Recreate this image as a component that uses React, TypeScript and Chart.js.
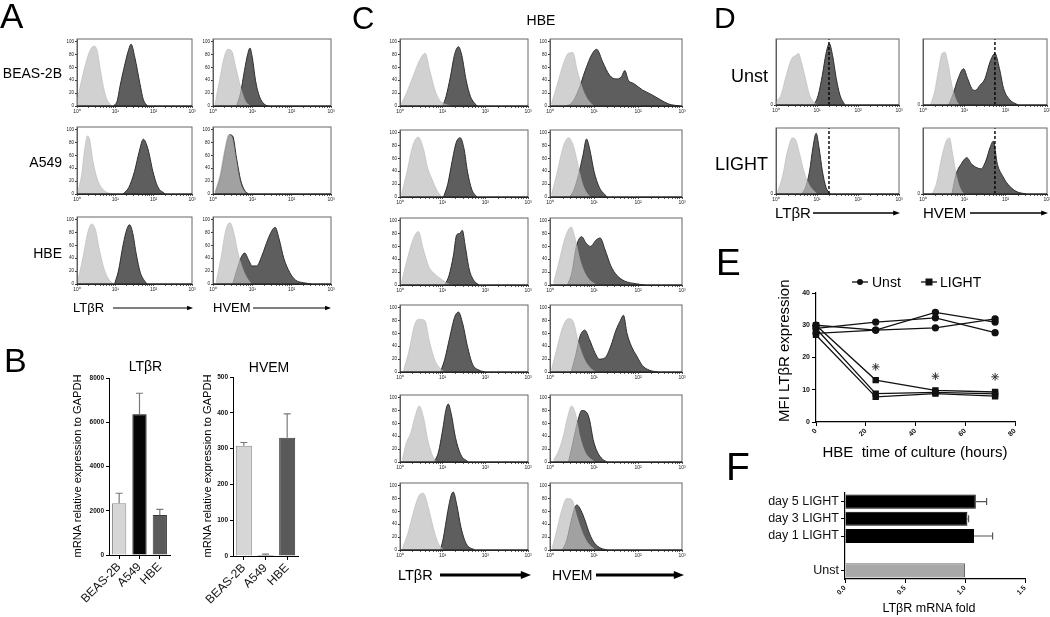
import React, { useEffect, useRef } from 'react';
import { Chart, registerables } from 'chart.js';
Chart.register(...registerables);

const FONT = "Arial, 'Liberation Sans', Helvetica, sans-serif";
Chart.defaults.font.family = FONT;
Chart.defaults.color = '#000';

type P = [number, number]; // [log10 fluorescence, % of max events]

// ---------- shared histogram axis ----------
const LOG_TICKS = [1, 2, 3, 4, 5, 6, 7, 8, 9, 10, 20, 30, 40, 50, 60, 70, 80, 90, 100, 200, 300, 400, 500, 600, 700, 800, 900, 1000];
const DECADE_LABELS: Record<number, string> = { 1: '10⁰', 10: '10¹', 100: '10²', 1000: '10³' };
const PCT_TICKS = [0, 20, 40, 60, 80, 100];
const ZERO_TICK = [0];

// ---------- Panel A (rows: BEAS-2B, A549, HBE) ----------
const A_ROW_LABELS = ['BEAS-2B', 'A549', 'HBE'];
const A_LTBR_CTRL: P[][] = [
  [[0, 8], [0.2, 60], [0.33, 85], [0.45, 93], [0.53, 85], [0.6, 60], [0.69, 30], [0.77, 12], [0.9, 0]],
  [[0.02, 3], [0.12, 30], [0.2, 70], [0.27, 90], [0.33, 85], [0.42, 50], [0.55, 20], [0.7, 6], [0.9, 0]],
  [[0.02, 5], [0.15, 40], [0.28, 80], [0.38, 93], [0.48, 85], [0.58, 55], [0.7, 25], [0.82, 8], [0.95, 0]],
];
const A_LTBR_STAIN: P[][] = [
  [[0.95, 0], [1.05, 8], [1.12, 30], [1.25, 65], [1.35, 88], [1.41, 96], [1.51, 75], [1.64, 35], [1.73, 10], [1.84, 0]],
  [[1.2, 0], [1.35, 10], [1.5, 35], [1.62, 65], [1.73, 85], [1.85, 70], [1.98, 35], [2.1, 12], [2.3, 0]],
  [[0.98, 0], [1.08, 20], [1.2, 60], [1.3, 85], [1.37, 92], [1.45, 80], [1.55, 45], [1.65, 18], [1.82, 0]],
];
const A_HVEM_CTRL: P[][] = [
  [[0.05, 3], [0.15, 35], [0.28, 75], [0.38, 88], [0.48, 85], [0.58, 60], [0.7, 30], [0.82, 8], [0.95, 0]],
  [[0.05, 3], [0.18, 30], [0.3, 70], [0.4, 92], [0.48, 88], [0.58, 55], [0.68, 20], [0.78, 5], [0.86, 0]],
  [[0.08, 3], [0.2, 40], [0.33, 85], [0.43, 95], [0.53, 80], [0.63, 50], [0.75, 25], [0.88, 8], [0.98, 0]],
];
const A_HVEM_STAIN: P[][] = [
  [[0.6, 0], [0.7, 20], [0.8, 55], [0.88, 80], [0.94, 90], [1.0, 75], [1.08, 40], [1.18, 15], [1.3, 3], [1.4, 0]],
  [[0.06, 2], [0.2, 30], [0.32, 70], [0.42, 92], [0.5, 90], [0.6, 55], [0.7, 22], [0.8, 6], [0.9, 0]],
  [[0.5, 0], [0.6, 20], [0.72, 42], [0.81, 48], [0.9, 38], [1.0, 28], [1.11, 28], [1.25, 45], [1.4, 70], [1.52, 85], [1.58, 88], [1.68, 70], [1.8, 40], [1.95, 18], [2.1, 6], [2.3, 2], [2.5, 0]],
];

// ---------- Panel B ----------
const B_CELLS = ['BEAS-2B', 'A549', 'HBE'];
const B_LTBR_MEAN = [2340, 6360, 1810];
const B_LTBR_ERR = [2790, 7310, 2065];
const B_HVEM_MEAN = [308, 3, 330];
const B_HVEM_ERR = [317, 5, 397];
const B_FILLS = ['#d6d6d6', '#050505', '#5a5a5a'];
const B_LINES = ['#8a8a8a', '#000000', '#3a3a3a'];

// ---------- Panel C (HBE, 6 donors) ----------
const C_LTBR_CTRL: P[][] = [
  [[0.02, 2], [0.15, 20], [0.3, 45], [0.45, 70], [0.59, 82], [0.7, 55], [0.82, 25], [0.94, 8], [1.1, 2], [1.2, 0]],
  [[0.03, 3], [0.15, 35], [0.3, 80], [0.43, 93], [0.55, 75], [0.65, 45], [0.75, 28], [0.87, 10], [0.98, 0]],
  [[0.03, 3], [0.15, 35], [0.3, 70], [0.43, 83], [0.55, 55], [0.68, 28], [0.8, 18], [0.95, 10], [1.1, 3], [1.2, 0]],
  [[0.08, 2], [0.2, 30], [0.35, 75], [0.45, 82], [0.58, 80], [0.7, 45], [0.82, 18], [0.95, 5], [1.05, 0]],
  [[0.05, 3], [0.15, 30], [0.25, 45], [0.35, 70], [0.45, 87], [0.55, 70], [0.65, 35], [0.75, 12], [0.85, 0]],
  [[0.05, 2], [0.18, 25], [0.32, 60], [0.45, 85], [0.55, 88], [0.65, 70], [0.78, 35], [0.9, 10], [1.03, 0]],
];
const C_LTBR_STAIN: P[][] = [
  [[1.0, 0], [1.08, 15], [1.18, 45], [1.28, 80], [1.37, 92], [1.45, 78], [1.55, 40], [1.65, 15], [1.8, 0]],
  [[1.02, 0], [1.12, 20], [1.22, 55], [1.32, 85], [1.41, 92], [1.5, 75], [1.58, 40], [1.68, 12], [1.8, 0]],
  [[1.05, 0], [1.15, 15], [1.25, 45], [1.33, 78], [1.4, 80], [1.46, 85], [1.53, 60], [1.62, 25], [1.72, 8], [1.85, 0]],
  [[0.95, 0], [1.05, 20], [1.17, 55], [1.28, 85], [1.37, 93], [1.47, 75], [1.58, 40], [1.7, 12], [1.85, 3], [2.0, 0]],
  [[0.8, 0], [0.9, 15], [1.0, 50], [1.08, 82], [1.13, 90], [1.2, 75], [1.3, 38], [1.42, 12], [1.6, 0]],
  [[0.95, 0], [1.02, 20], [1.12, 60], [1.2, 85], [1.25, 90], [1.33, 70], [1.43, 35], [1.55, 10], [1.75, 0]],
];
const C_HVEM_CTRL: P[][] = [
  [[0.03, 3], [0.15, 30], [0.3, 65], [0.42, 82], [0.52, 83], [0.62, 55], [0.75, 25], [0.88, 8], [1.0, 0]],
  [[0.03, 3], [0.15, 35], [0.3, 78], [0.42, 92], [0.52, 82], [0.62, 55], [0.72, 25], [0.82, 8], [0.92, 0]],
  [[0.08, 3], [0.2, 35], [0.35, 75], [0.48, 90], [0.58, 70], [0.7, 35], [0.85, 12], [1.05, 0]],
  [[0.03, 3], [0.15, 35], [0.3, 72], [0.43, 83], [0.53, 78], [0.65, 45], [0.78, 20], [0.92, 6], [1.05, 0]],
  [[0.08, 3], [0.2, 18], [0.3, 40], [0.4, 70], [0.49, 87], [0.58, 75], [0.68, 40], [0.8, 15], [0.92, 5], [1.03, 0]],
  [[0.05, 3], [0.15, 30], [0.28, 65], [0.38, 80], [0.5, 78], [0.6, 55], [0.72, 30], [0.85, 12], [1.03, 0]],
];
const C_HVEM_STAIN: P[][] = [
  [[0.35, 0], [0.5, 5], [0.65, 25], [0.8, 55], [0.95, 80], [1.06, 88], [1.2, 68], [1.35, 48], [1.5, 42], [1.62, 45], [1.7, 55], [1.78, 40], [1.9, 35], [2.1, 25], [2.3, 18], [2.5, 10], [2.7, 3], [2.95, 0]],
  [[0.45, 0], [0.55, 12], [0.65, 35], [0.75, 65], [0.83, 90], [0.9, 75], [1.0, 40], [1.12, 15], [1.3, 0]],
  [[0.4, 0], [0.5, 20], [0.6, 60], [0.72, 75], [0.82, 65], [0.92, 60], [1.05, 70], [1.14, 73], [1.25, 55], [1.38, 30], [1.52, 15], [1.7, 6], [1.95, 2], [2.15, 0]],
  [[0.48, 0], [0.58, 25], [0.68, 55], [0.79, 65], [0.9, 50], [1.02, 30], [1.12, 20], [1.25, 22], [1.38, 40], [1.5, 65], [1.6, 80], [1.67, 88], [1.75, 60], [1.85, 40], [1.97, 25], [2.1, 10], [2.25, 3], [2.45, 0]],
  [[0.42, 0], [0.52, 30], [0.6, 55], [0.68, 75], [0.72, 80], [0.82, 78], [0.9, 65], [0.98, 35], [1.08, 15], [1.2, 4], [1.3, 0]],
  [[0.28, 0], [0.38, 15], [0.48, 45], [0.56, 65], [0.61, 70], [0.7, 62], [0.8, 45], [0.9, 25], [1.02, 10], [1.15, 3], [1.3, 0]],
];

// ---------- Panel D (Unst, LIGHT) ----------
const D_ROW_LABELS = ['Unst', 'LIGHT'];
const D_LTBR_CTRL: P[][] = [
  [[0, 5], [0.12, 15], [0.25, 45], [0.38, 70], [0.48, 75], [0.55, 78], [0.62, 65], [0.72, 40], [0.82, 15], [0.95, 3], [1.05, 0]],
  [[0.03, 2], [0.15, 25], [0.28, 65], [0.4, 85], [0.48, 82], [0.58, 60], [0.68, 35], [0.8, 15], [1.0, 0]],
];
const D_LTBR_STAIN: P[][] = [
  [[0.93, 0], [1.03, 15], [1.13, 45], [1.22, 78], [1.3, 93], [1.38, 75], [1.47, 40], [1.56, 15], [1.68, 0]],
  [[0.62, 0], [0.72, 10], [0.82, 35], [0.9, 70], [0.98, 92], [1.05, 70], [1.13, 35], [1.22, 10], [1.32, 0]],
];
const D_HVEM_CTRL: P[][] = [
  [[0.18, 0], [0.28, 20], [0.38, 55], [0.46, 78], [0.53, 80], [0.6, 65], [0.7, 30], [0.8, 8], [0.88, 0]],
  [[0.22, 0], [0.32, 15], [0.45, 55], [0.56, 80], [0.64, 85], [0.72, 60], [0.82, 25], [0.92, 6], [1.0, 0]],
];
const D_HVEM_STAIN: P[][] = [
  [[0.62, 0], [0.72, 15], [0.85, 40], [0.98, 55], [1.08, 40], [1.18, 25], [1.26, 22], [1.38, 30], [1.5, 40], [1.62, 65], [1.74, 78], [1.85, 55], [1.95, 25], [2.1, 8], [2.3, 0]],
  [[0.7, 0], [0.8, 30], [0.92, 45], [1.06, 55], [1.18, 45], [1.3, 40], [1.4, 38], [1.52, 50], [1.62, 70], [1.7, 80], [1.8, 45], [1.92, 28], [2.05, 15], [2.25, 4], [2.5, 0]],
];
const D_LTBR_MEDIAN = 19.6; // Unst reference MFI
const D_HVEM_MEDIAN = 55;

// ---------- Panel E ----------
const E_HOURS = [0, 24, 48, 72];
const E_UNST: number[][] = [
  [29, 31, 32.3, 27.7],
  [30, 28.5, 34, 31],
  [27.5, 28.5, 29.2, 32],
];
const E_LIGHT: number[][] = [
  [30, 13, 9.8, 9.3],
  [29, 8.8, 9.2, 8.7],
  [27, 7.8, 8.8, 8.0],
];
const E_STAR_HOURS = [24, 48, 72];
const E_STAR_Y = [17.1, 14.2, 14.0];

// ---------- Panel F ----------
const F_LABELS = ['day 5 LIGHT', 'day 3 LIGHT', 'day 1 LIGHT', '', 'Unst'];
const F_FOLD = [1.09, 1.02, 1.075, null, 1.0];
const F_ERR = [1.18, 1.03, 1.23, null, null];
const F_FILLS = ['#000', '#000', '#000', '#000', '#a8a8a8'];
const F_LINES = ['#000', '#000', '#000', '#000', '#6a6a6a'];

// ---------- styles ----------
const CTRL_FILL = 'rgba(190,190,190,0.7)';
const CTRL_LINE = 'rgba(175,175,175,0.8)';
const STAIN_FILL = '#5e5e5e';
const STAIN_LINE = '#2e2e2e';

const boxPlugin = {
  id: 'box',
  afterDraw(chart: any) {
    const { ctx, chartArea: a } = chart;
    ctx.save();
    ctx.strokeStyle = '#666';
    ctx.lineWidth = 1;
    ctx.strokeRect(a.left, a.top, a.right - a.left, a.bottom - a.top);
    ctx.beginPath();
    ctx.strokeStyle = '#111';
    ctx.moveTo(a.left, a.bottom);
    ctx.lineTo(a.right, a.bottom);
    ctx.stroke();
    ctx.restore();
  },
};

function errPlugin(errs: (number | null)[], horizontal: boolean, color: string, cap: number) {
  return {
    id: 'errbars',
    afterDatasetsDraw(chart: any) {
      const { ctx } = chart;
      const meta = chart.getDatasetMeta(0);
      const sc = horizontal ? chart.scales.x : chart.scales.y;
      ctx.save();
      ctx.strokeStyle = color;
      ctx.lineWidth = 1.2;
      meta.data.forEach((bar: any, i: number) => {
        const e = errs[i];
        if (e == null) return;
        const p = sc.getPixelForValue(e);
        ctx.beginPath();
        if (horizontal) {
          ctx.moveTo(bar.x, bar.y);
          ctx.lineTo(p, bar.y);
          ctx.moveTo(p, bar.y - cap);
          ctx.lineTo(p, bar.y + cap);
        } else {
          ctx.moveTo(bar.x, bar.y);
          ctx.lineTo(bar.x, p);
          ctx.moveTo(bar.x - cap, p);
          ctx.lineTo(bar.x + cap, p);
        }
        ctx.stroke();
      });
      ctx.restore();
    },
  };
}

function ChartCanvas({ x, y, w, h, config }: { x: number; y: number; w: number; h: number; config: () => any }) {
  const ref = useRef<HTMLCanvasElement | null>(null);
  useEffect(() => {
    if (!ref.current) return;
    const chart = new Chart(ref.current, config());
    return () => chart.destroy();
  }, []);
  return <canvas ref={ref} width={w} height={h} style={{ position: 'absolute', left: x, top: y, width: w, height: h }} />;
}

const HYW = 22, HPT = 4, HPR = 8, HXH = 13;

function histConfig(ctrl: P[], stain: P[], yMax: number, yTicks: number[], median: number | null) {
  const toXY = (pts: P[]) => pts.map(([lx, y]) => ({ x: Math.pow(10, lx), y }));
  const datasets: any[] = [
    { data: toXY(ctrl), fill: 'origin', backgroundColor: CTRL_FILL, borderColor: CTRL_LINE, borderWidth: 0.6, pointRadius: 0, cubicInterpolationMode: 'monotone', order: 1 },
    { data: toXY(stain), fill: 'origin', backgroundColor: STAIN_FILL, borderColor: STAIN_LINE, borderWidth: 1, pointRadius: 0, cubicInterpolationMode: 'monotone', order: 2 },
  ];
  if (median != null) {
    datasets.push({ data: [{ x: median, y: 0 }, { x: median, y: yMax }], borderColor: '#000', borderWidth: 1.4, borderDash: [3, 2], pointRadius: 0, fill: false, order: 0 });
  }
  return {
    type: 'line',
    data: { datasets },
    options: {
      responsive: false,
      animation: false,
      events: [],
      layout: { padding: { left: 0, top: HPT, right: HPR, bottom: 0 } },
      plugins: { legend: { display: false }, tooltip: { enabled: false } },
      scales: {
        x: {
          type: 'logarithmic', min: 1, max: 1000,
          afterBuildTicks: (s: any) => { s.ticks = LOG_TICKS.map((v) => ({ value: v })); },
          afterFit: (s: any) => { s.height = HXH; s.paddingLeft = 0; s.paddingRight = 0; },
          ticks: { autoSkip: false, maxRotation: 0, minRotation: 0, padding: 1, font: { size: 5 }, color: '#222', callback: (v: any) => DECADE_LABELS[v] || '' },
          grid: { drawOnChartArea: false, tickLength: 2, tickColor: '#333', lineWidth: 0.8 },
          border: { color: '#111', width: 1 },
        },
        y: {
          type: 'linear', min: 0, max: yMax,
          afterBuildTicks: (s: any) => { s.ticks = yTicks.map((v) => ({ value: v })); },
          afterFit: (s: any) => { s.width = HYW; s.paddingTop = 0; s.paddingBottom = 0; },
          ticks: { padding: 1, font: { size: 4.5 }, color: '#222' },
          grid: { drawOnChartArea: false, tickLength: 2, tickColor: '#333' },
          border: { color: '#555' },
        },
      },
    },
    plugins: [boxPlugin],
  };
}

function Hist({ L, T, W, H, ctrl, stain, zeroOnly, median }: { L: number; T: number; W: number; H: number; ctrl: P[]; stain: P[]; zeroOnly?: boolean; median?: number }) {
  return (
    <ChartCanvas
      x={L - HYW} y={T - HPT} w={W + HYW + HPR} h={H + HPT + HXH}
      config={() => histConfig(ctrl, stain, zeroOnly ? 100 : 104, zeroOnly ? ZERO_TICK : PCT_TICKS, median ?? null)}
    />
  );
}

function barConfig(values: number[], errs: number[], yMax: number, step: number, yw: number, xh: number, barPct: number) {
  return {
    type: 'bar',
    data: { labels: B_CELLS, datasets: [{ data: values, backgroundColor: B_FILLS, borderColor: B_LINES, borderWidth: 1, barPercentage: barPct, categoryPercentage: 1 }] },
    options: {
      responsive: false, animation: false, events: [],
      layout: { padding: { left: 0, top: 8, right: 6, bottom: 0 } },
      plugins: { legend: { display: false }, tooltip: { enabled: false } },
      scales: {
        x: {
          afterFit: (s: any) => { s.height = xh; s.paddingLeft = 0; s.paddingRight = 0; },
          ticks: { minRotation: 45, maxRotation: 45, autoSkip: false, padding: 1, font: { size: 12 }, color: '#111' },
          grid: { drawOnChartArea: false, offset: false, tickLength: 4, tickColor: '#000' },
          border: { color: '#000', width: 1 },
        },
        y: {
          min: 0, max: yMax,
          afterFit: (s: any) => { s.width = yw; s.paddingTop = 0; s.paddingBottom = 0; },
          ticks: { stepSize: step, padding: 2, font: { size: 6.5, weight: 'bold' }, color: '#111', callback: (v: any) => String(v) },
          grid: { drawOnChartArea: false, tickLength: 3, tickColor: '#000' },
          border: { color: '#000', width: 1 },
        },
      },
    },
    plugins: [errPlugin(errs, false, '#7a7a7a', 3.5)],
  };
}

function lineConfig() {
  const datasets: any[] = [];
  E_UNST.forEach((s, k) => datasets.push({
    label: k === 0 ? 'Unst' : '', data: E_HOURS.map((h, i) => ({ x: h, y: s[i] })),
    borderColor: '#111', borderWidth: 1.3, pointStyle: 'circle', pointRadius: 3, pointBackgroundColor: '#111', pointBorderColor: '#111', fill: false, tension: 0, clip: false,
  }));
  E_LIGHT.forEach((s, k) => datasets.push({
    label: k === 0 ? 'LIGHT' : '', data: E_HOURS.map((h, i) => ({ x: h, y: s[i] })),
    borderColor: '#111', borderWidth: 1.3, pointStyle: 'rect', pointRadius: 3.6, pointBackgroundColor: '#111', pointBorderColor: '#111', fill: false, tension: 0, clip: false,
  }));
  datasets.push({
    type: 'scatter', label: '', data: E_STAR_HOURS.map((h, i) => ({ x: h, y: E_STAR_Y[i] })),
    pointStyle: 'star', pointRadius: 3.8, borderColor: '#333', borderWidth: 1, showLine: false, clip: false,
  });
  return {
    type: 'line',
    data: { datasets },
    options: {
      responsive: false, animation: false, events: [],
      layout: { padding: { left: 0, top: 8, right: 10, bottom: 0 } },
      plugins: { legend: { display: false }, tooltip: { enabled: false } },
      scales: {
        x: {
          type: 'linear', min: 0, max: 80,
          afterFit: (s: any) => { s.height = 26; s.paddingLeft = 0; s.paddingRight = 0; },
          ticks: { stepSize: 20, minRotation: 45, maxRotation: 45, padding: 1, font: { size: 7, weight: 'bold' }, color: '#111' },
          grid: { drawOnChartArea: false, tickLength: 4, tickColor: '#000' },
          border: { color: '#000', width: 1.2 },
        },
        y: {
          min: 0, max: 40,
          afterFit: (s: any) => { s.width = 28; s.paddingTop = 0; s.paddingBottom = 0; },
          ticks: { stepSize: 10, padding: 2, font: { size: 7, weight: 'bold' }, color: '#111' },
          grid: { drawOnChartArea: false, tickLength: 4, tickColor: '#000' },
          border: { color: '#000', width: 1.2 },
        },
      },
    },
  };
}

function hbarConfig() {
  return {
    type: 'bar',
    data: { labels: F_LABELS, datasets: [{ data: F_FOLD, backgroundColor: F_FILLS, borderColor: F_LINES, borderWidth: 1, barPercentage: 0.82, categoryPercentage: 1 }] },
    options: {
      indexAxis: 'y',
      responsive: false, animation: false, events: [],
      layout: { padding: { left: 0, top: 6, right: 12, bottom: 0 } },
      plugins: { legend: { display: false }, tooltip: { enabled: false } },
      scales: {
        x: {
          min: 0, max: 1.5,
          afterFit: (s: any) => { s.height = 22; s.paddingLeft = 0; s.paddingRight = 0; },
          ticks: { stepSize: 0.5, minRotation: 45, maxRotation: 45, padding: 1, font: { size: 7, weight: 'bold' }, color: '#111', callback: (v: any) => Number(v).toFixed(1) },
          grid: { drawOnChartArea: false, tickLength: 4, tickColor: '#000' },
          border: { color: '#000', width: 1.2 },
        },
        y: {
          afterFit: (s: any) => { s.width = 85; s.paddingTop = 0; s.paddingBottom = 0; },
          ticks: { autoSkip: false, padding: 2, font: { size: 12.5 }, color: '#111' },
          grid: { drawOnChartArea: false, offset: false, tickLength: 4, tickColor: (c: any) => (F_LABELS[c.index] === '' ? 'rgba(0,0,0,0)' : '#000') },
          border: { color: '#000', width: 1.2 },
        },
      },
    },
    plugins: [errPlugin(F_ERR, true, '#555', 3.5)],
  };
}

function Arrow({ x1, x2, y, w, head }: { x1: number; x2: number; y: number; w: number; head: number }) {
  const hl = head * 1.7;
  return (
    <g>
      <line x1={x1} y1={y} x2={x2 - hl + 1} y2={y} stroke="#000" strokeWidth={w} />
      <polygon points={`${x2},${y} ${x2 - hl},${y - head * 0.65} ${x2 - hl},${y + head * 0.65}`} fill="#000" />
    </g>
  );
}

const A_ROWS = [39, 127, 217];
const C_ROWS = [39, 130, 218, 305, 395, 483];
const D_ROWS = [39, 128];

export default function App() {
  useEffect(() => { document.body.style.margin = '0'; }, []);
  return (
    <div style={{ position: 'relative', width: 1050, height: 617, overflow: 'hidden', background: '#fff', fontFamily: FONT }}>
      {A_ROWS.map((T, r) => <Hist key={'al' + r} L={77} W={115} T={T} H={67} ctrl={A_LTBR_CTRL[r]} stain={A_LTBR_STAIN[r]} />)}
      {A_ROWS.map((T, r) => <Hist key={'ah' + r} L={213} W={118} T={T} H={67} ctrl={A_HVEM_CTRL[r]} stain={A_HVEM_STAIN[r]} />)}
      {C_ROWS.map((T, r) => <Hist key={'cl' + r} L={400} W={128} T={T} H={67} ctrl={C_LTBR_CTRL[r]} stain={C_LTBR_STAIN[r]} />)}
      {C_ROWS.map((T, r) => <Hist key={'ch' + r} L={550} W={132} T={T} H={67} ctrl={C_HVEM_CTRL[r]} stain={C_HVEM_STAIN[r]} />)}
      {D_ROWS.map((T, r) => <Hist key={'dl' + r} L={776} W={123} T={T} H={66} ctrl={D_LTBR_CTRL[r]} stain={D_LTBR_STAIN[r]} zeroOnly median={D_LTBR_MEDIAN} />)}
      {D_ROWS.map((T, r) => <Hist key={'dh' + r} L={923} W={124} T={T} H={66} ctrl={D_HVEM_CTRL[r]} stain={D_HVEM_STAIN[r]} zeroOnly median={D_HVEM_MEDIAN} />)}

      <ChartCanvas x={69} y={370} w={107} h={247} config={() => barConfig(B_LTBR_MEAN, B_LTBR_ERR, 8000, 2000, 40, 62, 0.7)} />
      <ChartCanvas x={193} y={369} w={111} h={249} config={() => barConfig(B_HVEM_MEAN, B_HVEM_ERR, 500, 100, 40, 62, 0.74)} />
      <ChartCanvas x={788} y={285} w={237} h={163} config={lineConfig} />
      <ChartCanvas x={760} y={487} w={277} h={114} config={hbarConfig} />

      <svg width={1050} height={617} style={{ position: 'absolute', left: 0, top: 0, pointerEvents: 'none' }} fontFamily={FONT} fill="#000">
        <text x={0} y={28} fontSize={35}>A</text>
        <text x={4} y={372} fontSize={34}>B</text>
        <text x={352} y={29} fontSize={31}>C</text>
        <text x={714} y={28} fontSize={30}>D</text>
        <text x={716} y={275} fontSize={37}>E</text>
        <text x={726} y={480} fontSize={39}>F</text>

        {A_ROW_LABELS.map((t, i) => <text key={t} x={62} y={[78, 167, 258][i]} fontSize={14} textAnchor="end">{t}</text>)}
        <text x={73} y={312} fontSize={13}>LTβR</text>
        <Arrow x1={113} x2={193} y={308} w={1} head={3.5} />
        <text x={213} y={312} fontSize={13}>HVEM</text>
        <Arrow x1={253} x2={331} y={308} w={1} head={3.5} />

        <text x={145.5} y={371} fontSize={14} textAnchor="middle">LTβR</text>
        <text x={269} y={372} fontSize={14} textAnchor="middle">HVEM</text>
        <text transform="translate(81,466) rotate(-90)" fontSize={11} textAnchor="middle" textLength={183} lengthAdjust="spacingAndGlyphs">mRNA relative expression to GAPDH</text>
        <text transform="translate(211,466) rotate(-90)" fontSize={11} textAnchor="middle" textLength={183} lengthAdjust="spacingAndGlyphs">mRNA relative expression to GAPDH</text>

        <text x={541} y={25} fontSize={14} textAnchor="middle">HBE</text>
        <text x={398} y={580} fontSize={14.5}>LTβR</text>
        <Arrow x1={440} x2={531} y={575} w={3} head={6} />
        <text x={552} y={580} fontSize={14}>HVEM</text>
        <Arrow x1={596} x2={684} y={575} w={3} head={6} />

        {D_ROW_LABELS.map((t, i) => <text key={t} x={768} y={[82, 170][i]} fontSize={18} textAnchor="end">{t}</text>)}
        <text x={775} y={218} fontSize={15}>LTβR</text>
        <Arrow x1={813} x2={900} y={213} w={1.3} head={4} />
        <text x={923} y={218} fontSize={15}>HVEM</text>
        <Arrow x1={970} x2={1048} y={213} w={1.3} head={4} />

        <line x1={852} y1={282} x2={868} y2={282} stroke="#111" strokeWidth={1.3} />
        <circle cx={860} cy={282} r={3} fill="#111" />
        <text x={872} y={287} fontSize={14}>Unst</text>
        <line x1={921} y1={282} x2={937} y2={282} stroke="#111" strokeWidth={1.3} />
        <rect x={925.5} y={278.5} width={7} height={7} fill="#111" />
        <text x={940} y={287} fontSize={14}>LIGHT</text>
        <text transform="translate(789,422) rotate(-90)" fontSize={15}>MFI LTβR expression</text>
        <text x={915} y={457} fontSize={15} textAnchor="middle" style={{ whiteSpace: 'pre' }}>{'HBE  time of culture (hours)'}</text>

        <text x={929} y={612} fontSize={12.5} textAnchor="middle">LTβR mRNA fold</text>
      </svg>
    </div>
  );
}
